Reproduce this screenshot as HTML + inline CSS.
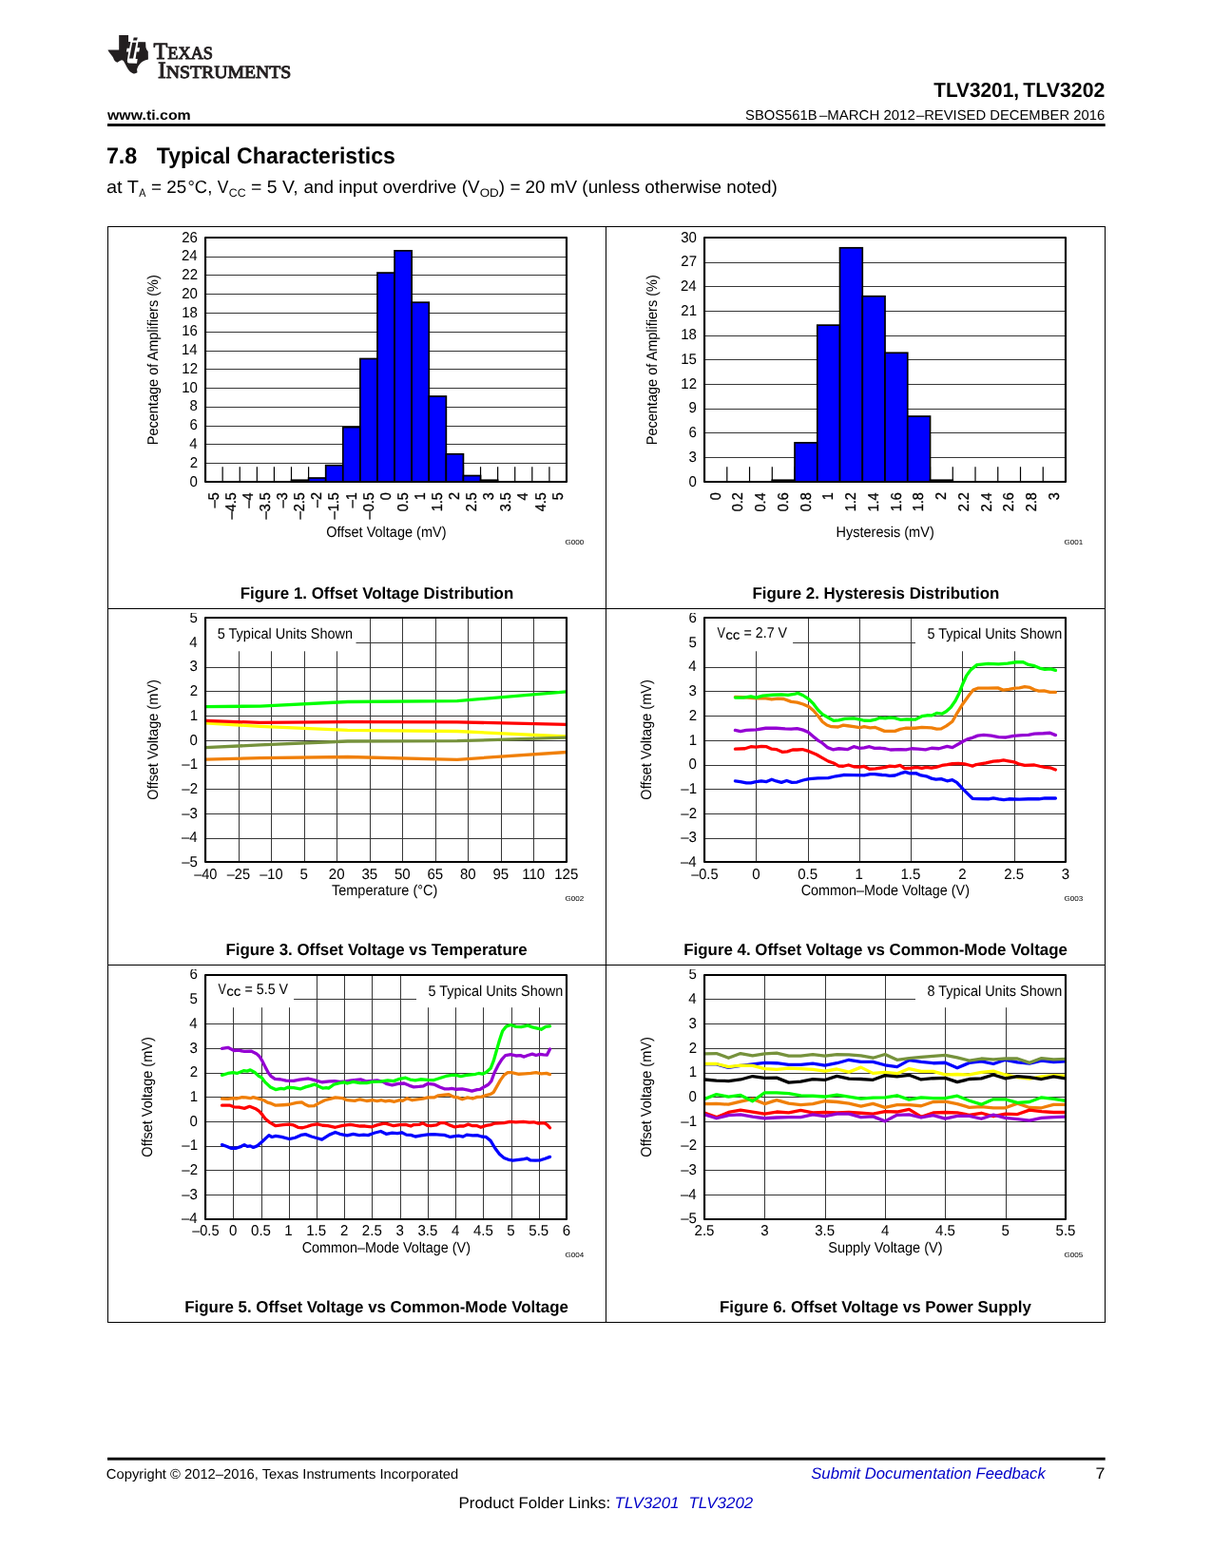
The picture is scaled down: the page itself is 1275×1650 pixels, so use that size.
<!DOCTYPE html>
<html lang="en"><head><meta charset="utf-8"><title>TLV3201, TLV3202 - Typical Characteristics</title>
<style>
html,body{margin:0;padding:0;background:#fff}
body{width:1275px;height:1650px;overflow:hidden}
svg{display:block}
text{font-family:"Liberation Sans",sans-serif;white-space:pre;text-rendering:geometricPrecision}
.b{font-weight:bold}
.i{font-style:italic}
.bi{font-weight:bold;font-style:italic}
.s{font-family:"Liberation Serif",serif}
.sb{font-family:"Liberation Serif",serif;font-weight:bold}
</style></head><body>
<svg width="1275" height="1650" viewBox="0 0 1275 1650">
<rect width="1275" height="1650" fill="#fff"/>
<g transform="translate(108,30) scale(0.047059)" fill="#231f20"><path d="M365,150 L575,150 L575,300 L960,302 L965,420 Q975,480 1015,515 L1018,690 Q860,720 790,850 Q750,910 775,985 Q740,1015 690,1008 Q600,980 545,870 Q500,780 465,720 Q430,690 385,720 L325,760 Q270,735 255,700 Q240,650 220,625 Q150,540 125,500 L118,480 L365,478 Z"/><path fill="#fff" d="M625,295 L795,295 L775,430 L832,430 L812,520 L758,520 L735,680 L780,680 L765,780 L590,778 Q548,770 548,715 L578,520 L528,520 L545,440 L598,440 Z"/><path d="M662,312 L752,312 L682,672 L595,672 Z"/><path d="M695,200 L782,200 L765,268 L680,268 Z"/></g>
<text class="s" transform="translate(161.48,61.6) scale(0.9678,1)" fill="#231f20" stroke="#231f20" stroke-width="1" stroke-linejoin="round"><tspan font-size="25">T</tspan><tspan font-size="18.9">EXAS</tspan></text>
<text class="s" transform="translate(165.99,81.7) scale(1.0451,1)" fill="#231f20" stroke="#231f20" stroke-width="1" stroke-linejoin="round"><tspan font-size="25">I</tspan><tspan font-size="18.9">NSTRUMENTS</tspan></text>
<text class="b" transform="translate(112.94,126) scale(1.0901,1)" font-size="14.6">www.ti.com</text>
<text class="b" transform="translate(982.19,102.4) scale(0.9675,1)" font-size="21.5">TLV3201,</text>
<text class="b" transform="translate(1076.29,102.4) scale(0.9920,1)" font-size="21.5">TLV3202</text>
<text class="r" transform="translate(784.04,125.5) scale(1.0127,1)" font-size="14.58">SBOS561B</text>
<text class="r" transform="translate(862,125.5) scale(1.0273,1)" font-size="14.58">–MARCH 2012</text>
<text class="r" transform="translate(963.9,125.5) scale(1.0155,1)" font-size="14.58">–REVISED DECEMBER 2016</text>
<rect x="113" y="130.1" width="1049.7" height="2.9" fill="#000"/>
<text class="b" transform="translate(111.91,172.1) scale(0.9709,1)" font-size="24">7.8</text>
<text class="b" transform="translate(164.87,172.1) scale(0.9619,1)" font-size="24">Typical Characteristics</text>
<text class="r" transform="translate(112.06,203) scale(1.0602,1)" font-size="18.75">at T</text>
<text class="r" transform="translate(146.17,207) scale(0.8784,1)" font-size="12.2">A</text>
<text class="r" transform="translate(159.11,203) scale(1.0016,1)" font-size="18.75">= 25</text>
<text class="r" transform="translate(197.5,203) scale(0.9813,1)" font-size="18.75">°C,</text>
<text class="r" transform="translate(228.81,203) scale(0.9328,1)" font-size="18.75">V</text>
<text class="r" transform="translate(240.78,207) scale(1.0084,1)" font-size="12.2">CC</text>
<text class="r" transform="translate(264.08,203) scale(1.0357,1)" font-size="18.75">= 5 V,</text>
<text class="r" transform="translate(319.5,203) scale(1.0089,1)" font-size="18.75">and input overdrive (V</text>
<text class="r" transform="translate(504.66,207) scale(1.1026,1)" font-size="12.2">OD</text>
<text class="r" transform="translate(524.86,203) scale(1.0055,1)" font-size="18.75">) = 20 mV (unless otherwise noted)</text>
<rect x="113" y="238" width="1050" height="1" fill="#000"/>
<rect x="113" y="640" width="1050" height="1" fill="#000"/>
<rect x="113" y="1015" width="1050" height="1" fill="#000"/>
<rect x="113" y="1391" width="1050" height="1" fill="#000"/>
<rect x="113" y="238" width="1" height="1154" fill="#000"/>
<rect x="637" y="238" width="1" height="1154" fill="#000"/>
<rect x="1162" y="238" width="1" height="1154" fill="#000"/>
<rect x="216.05" y="270" width="379.95" height="1" fill="#363636"/>
<rect x="216.05" y="289" width="379.95" height="1" fill="#363636"/>
<rect x="216.05" y="309" width="379.95" height="1" fill="#363636"/>
<rect x="216.05" y="329" width="379.95" height="1" fill="#363636"/>
<rect x="216.05" y="349" width="379.95" height="1" fill="#363636"/>
<rect x="216.05" y="369" width="379.95" height="1" fill="#363636"/>
<rect x="216.05" y="388" width="379.95" height="1" fill="#363636"/>
<rect x="216.05" y="408" width="379.95" height="1" fill="#363636"/>
<rect x="216.05" y="428" width="379.95" height="1" fill="#363636"/>
<rect x="216.05" y="448" width="379.95" height="1" fill="#363636"/>
<rect x="216.05" y="467" width="379.95" height="1" fill="#363636"/>
<rect x="216.05" y="487" width="379.95" height="1" fill="#363636"/>
<rect x="233.54" y="491.25" width="1.2" height="15.7" fill="#000"/>
<rect x="251.64" y="491.25" width="1.2" height="15.7" fill="#000"/>
<rect x="269.73" y="491.25" width="1.2" height="15.7" fill="#000"/>
<rect x="287.82" y="491.25" width="1.2" height="15.7" fill="#000"/>
<rect x="305.91" y="491.25" width="1.2" height="15.7" fill="#000"/>
<rect x="324.01" y="491.25" width="1.2" height="15.7" fill="#000"/>
<rect x="342.1" y="491.25" width="1.2" height="15.7" fill="#000"/>
<rect x="360.19" y="491.25" width="1.2" height="15.7" fill="#000"/>
<rect x="378.29" y="491.25" width="1.2" height="15.7" fill="#000"/>
<rect x="396.38" y="491.25" width="1.2" height="15.7" fill="#000"/>
<rect x="414.47" y="491.25" width="1.2" height="15.7" fill="#000"/>
<rect x="432.56" y="491.25" width="1.2" height="15.7" fill="#000"/>
<rect x="450.66" y="491.25" width="1.2" height="15.7" fill="#000"/>
<rect x="468.75" y="491.25" width="1.2" height="15.7" fill="#000"/>
<rect x="486.84" y="491.25" width="1.2" height="15.7" fill="#000"/>
<rect x="504.94" y="491.25" width="1.2" height="15.7" fill="#000"/>
<rect x="523.03" y="491.25" width="1.2" height="15.7" fill="#000"/>
<rect x="541.12" y="491.25" width="1.2" height="15.7" fill="#000"/>
<rect x="559.21" y="491.25" width="1.2" height="15.7" fill="#000"/>
<rect x="577.31" y="491.25" width="1.2" height="15.7" fill="#000"/>
<rect x="306.51" y="505.25" width="18.09" height="1.7" fill="#0000ff" stroke="#000" stroke-width="1.7"/>
<rect x="324.61" y="503" width="18.09" height="3.95" fill="#0000ff" stroke="#000" stroke-width="1.7"/>
<rect x="342.7" y="489.66" width="18.09" height="17.29" fill="#0000ff" stroke="#000" stroke-width="1.7"/>
<rect x="360.79" y="449.64" width="18.09" height="57.31" fill="#0000ff" stroke="#000" stroke-width="1.7"/>
<rect x="378.89" y="377.49" width="18.09" height="129.46" fill="#0000ff" stroke="#000" stroke-width="1.7"/>
<rect x="396.98" y="287.07" width="18.09" height="219.88" fill="#0000ff" stroke="#000" stroke-width="1.7"/>
<rect x="415.07" y="263.84" width="18.09" height="243.11" fill="#0000ff" stroke="#000" stroke-width="1.7"/>
<rect x="433.16" y="318.2" width="18.09" height="188.75" fill="#0000ff" stroke="#000" stroke-width="1.7"/>
<rect x="451.26" y="417.02" width="18.09" height="89.93" fill="#0000ff" stroke="#000" stroke-width="1.7"/>
<rect x="469.35" y="477.8" width="18.09" height="29.15" fill="#0000ff" stroke="#000" stroke-width="1.7"/>
<rect x="487.44" y="500.53" width="18.09" height="6.42" fill="#0000ff" stroke="#000" stroke-width="1.7"/>
<rect x="505.54" y="505.25" width="18.09" height="1.7" fill="#0000ff" stroke="#000" stroke-width="1.7"/>
<rect x="216.05" y="250" width="379.95" height="256.95" fill="none" stroke="#000" stroke-width="2.15" stroke-linejoin="round"/>
<text class="r" transform="translate(191.2,255) scale(0.9650,1)" font-size="15.62">26</text>
<text class="r" transform="translate(190.98,274) scale(0.9650,1)" font-size="15.62">24</text>
<text class="r" transform="translate(191.32,294) scale(0.9650,1)" font-size="15.62">22</text>
<text class="r" transform="translate(191.13,314) scale(0.9650,1)" font-size="15.62">20</text>
<text class="r" transform="translate(191.2,334) scale(0.9650,1)" font-size="15.62">18</text>
<text class="r" transform="translate(191.2,353) scale(0.9650,1)" font-size="15.62">16</text>
<text class="r" transform="translate(190.98,373) scale(0.9650,1)" font-size="15.62">14</text>
<text class="r" transform="translate(191.32,393) scale(0.9650,1)" font-size="15.62">12</text>
<text class="r" transform="translate(191.13,413) scale(0.9650,1)" font-size="15.62">10</text>
<text class="r" transform="translate(199.57,432) scale(0.9650,1)" font-size="15.62">8</text>
<text class="r" transform="translate(199.57,452) scale(0.9650,1)" font-size="15.62">6</text>
<text class="r" transform="translate(199.35,472) scale(0.9650,1)" font-size="15.62">4</text>
<text class="r" transform="translate(199.69,492) scale(0.9650,1)" font-size="15.62">2</text>
<text class="r" transform="translate(199.5,512) scale(0.9650,1)" font-size="15.62">0</text>
<text class="r" transform="translate(229.8,534.26) rotate(-90) scale(0.9250,1)" font-size="15.62" stroke="#000" stroke-width="0.3">–5</text>
<text class="r" transform="translate(247.89,546.33) rotate(-90) scale(0.9250,1)" font-size="15.62" stroke="#000" stroke-width="0.3">–4.5</text>
<text class="r" transform="translate(265.98,534.45) rotate(-90) scale(0.9250,1)" font-size="15.62" stroke="#000" stroke-width="0.3">–4</text>
<text class="r" transform="translate(284.07,546.33) rotate(-90) scale(0.9250,1)" font-size="15.62" stroke="#000" stroke-width="0.3">–3.5</text>
<text class="r" transform="translate(302.17,534.23) rotate(-90) scale(0.9250,1)" font-size="15.62" stroke="#000" stroke-width="0.3">–3</text>
<text class="r" transform="translate(320.26,546.33) rotate(-90) scale(0.9250,1)" font-size="15.62" stroke="#000" stroke-width="0.3">–2.5</text>
<text class="r" transform="translate(338.35,534.12) rotate(-90) scale(0.9250,1)" font-size="15.62" stroke="#000" stroke-width="0.3">–2</text>
<text class="r" transform="translate(356.45,546.33) rotate(-90) scale(0.9250,1)" font-size="15.62" stroke="#000" stroke-width="0.3">–1.5</text>
<text class="r" transform="translate(374.54,534.16) rotate(-90) scale(0.9250,1)" font-size="15.62" stroke="#000" stroke-width="0.3">–1</text>
<text class="r" transform="translate(392.63,546.33) rotate(-90) scale(0.9250,1)" font-size="15.62" stroke="#000" stroke-width="0.3">–0.5</text>
<text class="r" transform="translate(410.72,526.28) rotate(-90) scale(0.9250,1)" font-size="15.62" stroke="#000" stroke-width="0.3">0</text>
<text class="r" transform="translate(428.82,538.31) rotate(-90) scale(0.9250,1)" font-size="15.62" stroke="#000" stroke-width="0.3">0.5</text>
<text class="r" transform="translate(446.91,526.13) rotate(-90) scale(0.9250,1)" font-size="15.62" stroke="#000" stroke-width="0.3">1</text>
<text class="r" transform="translate(465,538.31) rotate(-90) scale(0.9250,1)" font-size="15.62" stroke="#000" stroke-width="0.3">1.5</text>
<text class="r" transform="translate(483.1,526.1) rotate(-90) scale(0.9250,1)" font-size="15.62" stroke="#000" stroke-width="0.3">2</text>
<text class="r" transform="translate(501.19,538.31) rotate(-90) scale(0.9250,1)" font-size="15.62" stroke="#000" stroke-width="0.3">2.5</text>
<text class="r" transform="translate(519.28,526.21) rotate(-90) scale(0.9250,1)" font-size="15.62" stroke="#000" stroke-width="0.3">3</text>
<text class="r" transform="translate(537.38,538.31) rotate(-90) scale(0.9250,1)" font-size="15.62" stroke="#000" stroke-width="0.3">3.5</text>
<text class="r" transform="translate(555.47,526.42) rotate(-90) scale(0.9250,1)" font-size="15.62" stroke="#000" stroke-width="0.3">4</text>
<text class="r" transform="translate(573.56,538.31) rotate(-90) scale(0.9250,1)" font-size="15.62" stroke="#000" stroke-width="0.3">4.5</text>
<text class="r" transform="translate(591.65,526.24) rotate(-90) scale(0.9250,1)" font-size="15.62" stroke="#000" stroke-width="0.3">5</text>
<text class="r" transform="translate(166.35,468.3) rotate(-90) scale(0.9300,1)" font-size="15.62">Pecentage of Amplifiers (%)</text>
<text class="r" transform="translate(343.15,565) scale(0.9300,1)" font-size="15.62">Offset Voltage (mV)</text>
<text class="r" transform="translate(594.4,573) scale(1.1070,1)" font-size="7.3">G000</text>
<text class="b" transform="translate(252.65,630) scale(0.9820,1)" font-size="17.2">Figure 1. Offset Voltage Distribution</text>
<rect x="741.05" y="276" width="379.95" height="1" fill="#363636"/>
<rect x="741.05" y="301" width="379.95" height="1" fill="#363636"/>
<rect x="741.05" y="327" width="379.95" height="1" fill="#363636"/>
<rect x="741.05" y="353" width="379.95" height="1" fill="#363636"/>
<rect x="741.05" y="378" width="379.95" height="1" fill="#363636"/>
<rect x="741.05" y="404" width="379.95" height="1" fill="#363636"/>
<rect x="741.05" y="430" width="379.95" height="1" fill="#363636"/>
<rect x="741.05" y="455" width="379.95" height="1" fill="#363636"/>
<rect x="741.05" y="481" width="379.95" height="1" fill="#363636"/>
<rect x="764.2" y="491.25" width="1.2" height="15.7" fill="#000"/>
<rect x="787.94" y="491.25" width="1.2" height="15.7" fill="#000"/>
<rect x="811.69" y="491.25" width="1.2" height="15.7" fill="#000"/>
<rect x="835.44" y="491.25" width="1.2" height="15.7" fill="#000"/>
<rect x="859.18" y="491.25" width="1.2" height="15.7" fill="#000"/>
<rect x="882.93" y="491.25" width="1.2" height="15.7" fill="#000"/>
<rect x="906.68" y="491.25" width="1.2" height="15.7" fill="#000"/>
<rect x="930.42" y="491.25" width="1.2" height="15.7" fill="#000"/>
<rect x="954.17" y="491.25" width="1.2" height="15.7" fill="#000"/>
<rect x="977.92" y="491.25" width="1.2" height="15.7" fill="#000"/>
<rect x="1001.67" y="491.25" width="1.2" height="15.7" fill="#000"/>
<rect x="1025.41" y="491.25" width="1.2" height="15.7" fill="#000"/>
<rect x="1049.16" y="491.25" width="1.2" height="15.7" fill="#000"/>
<rect x="1072.91" y="491.25" width="1.2" height="15.7" fill="#000"/>
<rect x="1096.65" y="491.25" width="1.2" height="15.7" fill="#000"/>
<rect x="812.29" y="505.25" width="23.75" height="1.7" fill="#0000ff" stroke="#000" stroke-width="1.7"/>
<rect x="836.04" y="465.91" width="23.75" height="41.04" fill="#0000ff" stroke="#000" stroke-width="1.7"/>
<rect x="859.78" y="342.15" width="23.75" height="164.8" fill="#0000ff" stroke="#000" stroke-width="1.7"/>
<rect x="883.53" y="260.78" width="23.75" height="246.17" fill="#0000ff" stroke="#000" stroke-width="1.7"/>
<rect x="907.28" y="311.74" width="23.75" height="195.21" fill="#0000ff" stroke="#000" stroke-width="1.7"/>
<rect x="931.02" y="371.27" width="23.75" height="135.68" fill="#0000ff" stroke="#000" stroke-width="1.7"/>
<rect x="954.77" y="438.07" width="23.75" height="68.88" fill="#0000ff" stroke="#000" stroke-width="1.7"/>
<rect x="978.52" y="505.25" width="23.75" height="1.7" fill="#0000ff" stroke="#000" stroke-width="1.7"/>
<rect x="741.05" y="250" width="379.95" height="256.95" fill="none" stroke="#000" stroke-width="2.15" stroke-linejoin="round"/>
<text class="r" transform="translate(716.13,255) scale(0.9650,1)" font-size="15.62">30</text>
<text class="r" transform="translate(716.32,280) scale(0.9650,1)" font-size="15.62">27</text>
<text class="r" transform="translate(715.98,306) scale(0.9650,1)" font-size="15.62">24</text>
<text class="r" transform="translate(716.28,332) scale(0.9650,1)" font-size="15.62">21</text>
<text class="r" transform="translate(716.2,357) scale(0.9650,1)" font-size="15.62">18</text>
<text class="r" transform="translate(716.17,383) scale(0.9650,1)" font-size="15.62">15</text>
<text class="r" transform="translate(716.32,409) scale(0.9650,1)" font-size="15.62">12</text>
<text class="r" transform="translate(724.61,434) scale(0.9650,1)" font-size="15.62">9</text>
<text class="r" transform="translate(724.57,460) scale(0.9650,1)" font-size="15.62">6</text>
<text class="r" transform="translate(724.57,486) scale(0.9650,1)" font-size="15.62">3</text>
<text class="r" transform="translate(724.5,512) scale(0.9650,1)" font-size="15.62">0</text>
<text class="r" transform="translate(757.62,526.28) rotate(-90) scale(0.9250,1)" font-size="15.62" stroke="#000" stroke-width="0.3">0</text>
<text class="r" transform="translate(781.37,538.17) rotate(-90) scale(0.9250,1)" font-size="15.62" stroke="#000" stroke-width="0.3">0.2</text>
<text class="r" transform="translate(805.12,538.49) rotate(-90) scale(0.9250,1)" font-size="15.62" stroke="#000" stroke-width="0.3">0.4</text>
<text class="r" transform="translate(828.86,538.28) rotate(-90) scale(0.9250,1)" font-size="15.62" stroke="#000" stroke-width="0.3">0.6</text>
<text class="r" transform="translate(852.61,538.28) rotate(-90) scale(0.9250,1)" font-size="15.62" stroke="#000" stroke-width="0.3">0.8</text>
<text class="r" transform="translate(876.36,526.13) rotate(-90) scale(0.9250,1)" font-size="15.62" stroke="#000" stroke-width="0.3">1</text>
<text class="r" transform="translate(900.1,538.17) rotate(-90) scale(0.9250,1)" font-size="15.62" stroke="#000" stroke-width="0.3">1.2</text>
<text class="r" transform="translate(923.85,538.49) rotate(-90) scale(0.9250,1)" font-size="15.62" stroke="#000" stroke-width="0.3">1.4</text>
<text class="r" transform="translate(947.6,538.28) rotate(-90) scale(0.9250,1)" font-size="15.62" stroke="#000" stroke-width="0.3">1.6</text>
<text class="r" transform="translate(971.35,538.28) rotate(-90) scale(0.9250,1)" font-size="15.62" stroke="#000" stroke-width="0.3">1.8</text>
<text class="r" transform="translate(995.09,526.1) rotate(-90) scale(0.9250,1)" font-size="15.62" stroke="#000" stroke-width="0.3">2</text>
<text class="r" transform="translate(1018.84,538.17) rotate(-90) scale(0.9250,1)" font-size="15.62" stroke="#000" stroke-width="0.3">2.2</text>
<text class="r" transform="translate(1042.59,538.49) rotate(-90) scale(0.9250,1)" font-size="15.62" stroke="#000" stroke-width="0.3">2.4</text>
<text class="r" transform="translate(1066.33,538.28) rotate(-90) scale(0.9250,1)" font-size="15.62" stroke="#000" stroke-width="0.3">2.6</text>
<text class="r" transform="translate(1090.08,538.28) rotate(-90) scale(0.9250,1)" font-size="15.62" stroke="#000" stroke-width="0.3">2.8</text>
<text class="r" transform="translate(1113.83,526.21) rotate(-90) scale(0.9250,1)" font-size="15.62" stroke="#000" stroke-width="0.3">3</text>
<text class="r" transform="translate(691.35,468.3) rotate(-90) scale(0.9300,1)" font-size="15.62">Pecentage of Amplifiers (%)</text>
<text class="r" transform="translate(879.5,565) scale(0.9300,1)" font-size="15.62">Hysteresis (mV)</text>
<text class="r" transform="translate(1119.4,573) scale(1.1070,1)" font-size="7.3">G001</text>
<text class="b" transform="translate(791.54,630) scale(0.9820,1)" font-size="17.2">Figure 2. Hysteresis Distribution</text>
<clipPath id="clipA"><rect x="100" y="644.9" width="1100" height="300"/></clipPath><clipPath id="clipB"><rect x="100" y="1019.9" width="1100" height="300"/></clipPath>
<rect x="216.05" y="676" width="379.95" height="1" fill="#363636"/>
<rect x="216.05" y="702" width="379.95" height="1" fill="#363636"/>
<rect x="216.05" y="727" width="379.95" height="1" fill="#363636"/>
<rect x="216.05" y="753" width="379.95" height="1" fill="#363636"/>
<rect x="216.05" y="779" width="379.95" height="1" fill="#363636"/>
<rect x="216.05" y="805" width="379.95" height="1" fill="#363636"/>
<rect x="216.05" y="830" width="379.95" height="1" fill="#363636"/>
<rect x="216.05" y="856" width="379.95" height="1" fill="#363636"/>
<rect x="216.05" y="882" width="379.95" height="1" fill="#363636"/>
<rect x="251" y="650" width="1" height="256.95" fill="#363636"/>
<rect x="285" y="650" width="1" height="256.95" fill="#363636"/>
<rect x="320" y="650" width="1" height="256.95" fill="#363636"/>
<rect x="354" y="650" width="1" height="256.95" fill="#363636"/>
<rect x="389" y="650" width="1" height="256.95" fill="#363636"/>
<rect x="423" y="650" width="1" height="256.95" fill="#363636"/>
<rect x="458" y="650" width="1" height="256.95" fill="#363636"/>
<rect x="492" y="650" width="1" height="256.95" fill="#363636"/>
<rect x="527" y="650" width="1" height="256.95" fill="#363636"/>
<rect x="561" y="650" width="1" height="256.95" fill="#363636"/>
<rect x="217" y="651" width="157.5" height="34.3" fill="#fff"/>
<clipPath id="cp216_650"><rect x="216.05" y="650" width="379.95" height="256.95"/></clipPath><g clip-path="url(#cp216_650)">
<path d="M216.05,799.1 L273.6,797.6 L365.7,796.5 L480.9,799.3 L596,791.5" fill="none" stroke="#f07f09" stroke-width="3.3" stroke-linejoin="round" stroke-linecap="round"/>
<path d="M216.05,760.9 L273.6,764.3 L365.7,768.4 L480.9,769.5 L596,775" fill="none" stroke="#ffff00" stroke-width="3.3" stroke-linejoin="round" stroke-linecap="round"/>
<path d="M216.05,786.6 L273.6,783.9 L365.7,780 L480.9,779.7 L596,776.1" fill="none" stroke="#76923c" stroke-width="3.3" stroke-linejoin="round" stroke-linecap="round"/>
<path d="M216.05,758.4 L273.6,760.4 L365.7,759.6 L480.9,759.9 L596,762.3" fill="none" stroke="#ff0000" stroke-width="3.3" stroke-linejoin="round" stroke-linecap="round"/>
<path d="M216.05,743.6 L273.6,743.1 L365.7,738.5 L480.9,737.6 L596,727.9" fill="none" stroke="#00ff00" stroke-width="3.3" stroke-linejoin="round" stroke-linecap="round"/>
</g>
<rect x="216.05" y="650" width="379.95" height="256.95" fill="none" stroke="#000" stroke-width="2.15" stroke-linejoin="round"/>
<g clip-path="url(#clipA)">
<text class="r" transform="translate(199.53,655) scale(0.9650,1)" font-size="15.62">5</text>
<text class="r" transform="translate(199.35,681) scale(0.9650,1)" font-size="15.62">4</text>
<text class="r" transform="translate(199.57,706) scale(0.9650,1)" font-size="15.62">3</text>
<text class="r" transform="translate(199.69,732) scale(0.9650,1)" font-size="15.62">2</text>
<text class="r" transform="translate(199.65,758) scale(0.9650,1)" font-size="15.62">1</text>
<text class="r" transform="translate(199.5,784) scale(0.9650,1)" font-size="15.62">0</text>
<text class="r" transform="translate(191.28,809) scale(0.9650,1)" font-size="15.62">–1</text>
<text class="r" transform="translate(191.32,835) scale(0.9650,1)" font-size="15.62">–2</text>
<text class="r" transform="translate(191.2,861) scale(0.9650,1)" font-size="15.62">–3</text>
<text class="r" transform="translate(190.98,886) scale(0.9650,1)" font-size="15.62">–4</text>
<text class="r" transform="translate(191.17,912) scale(0.9650,1)" font-size="15.62">–5</text>
</g>
<text class="r" transform="translate(204.14,924.5) scale(0.9350,1)" font-size="15.62">–40</text>
<text class="r" transform="translate(238.7,924.5) scale(0.9350,1)" font-size="15.62">–25</text>
<text class="r" transform="translate(273.23,924.5) scale(0.9350,1)" font-size="15.62">–10</text>
<text class="r" transform="translate(315.49,924.5) scale(0.9650,1)" font-size="15.62">5</text>
<text class="r" transform="translate(345.75,924.5) scale(0.9650,1)" font-size="15.62">20</text>
<text class="r" transform="translate(380.41,924.5) scale(0.9650,1)" font-size="15.62">35</text>
<text class="r" transform="translate(414.91,924.5) scale(0.9650,1)" font-size="15.62">50</text>
<text class="r" transform="translate(449.39,924.5) scale(0.9650,1)" font-size="15.62">65</text>
<text class="r" transform="translate(483.97,924.5) scale(0.9650,1)" font-size="15.62">80</text>
<text class="r" transform="translate(518.49,924.5) scale(0.9650,1)" font-size="15.62">95</text>
<text class="r" transform="translate(549.17,924.5) scale(0.9650,1)" font-size="15.62">110</text>
<text class="r" transform="translate(583.16,924.5) scale(0.9650,1)" font-size="15.62">125</text>
<text class="r" transform="translate(166.35,841.65) rotate(-90) scale(0.9300,1)" font-size="15.62">Offset Voltage (mV)</text>
<text class="r" transform="translate(348.9,941.5) scale(0.9300,1)" font-size="15.62">Temperature (°C)</text>
<text class="r" transform="translate(594.4,948) scale(1.1070,1)" font-size="7.3">G002</text>
<text class="b" transform="translate(237.43,1005) scale(0.9820,1)" font-size="17.2">Figure 3. Offset Voltage vs Temperature</text>
<text class="r" transform="translate(228.72,672) scale(0.9286,1)" font-size="15.62">5 Typical Units Shown</text>
<rect x="741.05" y="676" width="379.95" height="1" fill="#363636"/>
<rect x="741.05" y="702" width="379.95" height="1" fill="#363636"/>
<rect x="741.05" y="727" width="379.95" height="1" fill="#363636"/>
<rect x="741.05" y="753" width="379.95" height="1" fill="#363636"/>
<rect x="741.05" y="779" width="379.95" height="1" fill="#363636"/>
<rect x="741.05" y="805" width="379.95" height="1" fill="#363636"/>
<rect x="741.05" y="830" width="379.95" height="1" fill="#363636"/>
<rect x="741.05" y="856" width="379.95" height="1" fill="#363636"/>
<rect x="741.05" y="882" width="379.95" height="1" fill="#363636"/>
<rect x="795" y="650" width="1" height="256.95" fill="#363636"/>
<rect x="850" y="650" width="1" height="256.95" fill="#363636"/>
<rect x="904" y="650" width="1" height="256.95" fill="#363636"/>
<rect x="958" y="650" width="1" height="256.95" fill="#363636"/>
<rect x="1012" y="650" width="1" height="256.95" fill="#363636"/>
<rect x="1067" y="650" width="1" height="256.95" fill="#363636"/>
<rect x="742" y="651" width="92.1" height="34.3" fill="#fff"/>
<rect x="963" y="651" width="157" height="34.3" fill="#fff"/>
<clipPath id="cp741_650"><rect x="741.05" y="650" width="379.95" height="256.95"/></clipPath><g clip-path="url(#cp741_650)">
<path d="M773.43,821.94 L778.92,822.57 L785.2,823.82 L789.9,823.82 L795.39,822.73 L800.88,821.94 L806.37,822.57 L811.86,820.22 L816.57,821.94 L822.06,823.35 L827.55,821.47 L833.04,823.35 L838.53,823.04 L844.8,821 L851.08,819.59 L860.49,818.8 L871.47,818.65 L879.31,816.76 L887.16,815.51 L898.14,815.67 L909.12,815.82 L915.39,814.57 L920.1,814.57 L927.94,815.51 L931.27,815.67 L935.98,816.29 L941.47,815.98 L946.96,813.94 L952.45,812.37 L957.16,813.94 L963.43,813.63 L968.92,815.98 L974.41,816.76 L979.9,819.12 L984.61,820.22 L990.1,819.59 L996.37,821.78 L1001.86,820.69 L1006.57,823.35 L1012.84,830.1 L1018.33,835.59 L1023.04,840.29 L1028.53,840.61 L1039.51,840.76 L1045,839.82 L1050.49,840.76 L1055.98,841.55 L1061.47,840.76 L1072.45,841.08 L1081.86,840.76 L1092.84,840.76 L1099.12,839.82 L1104.61,839.98 L1110.41,839.98" fill="none" stroke="#0000ff" stroke-width="3.3" stroke-linejoin="round" stroke-linecap="round"/>
<path d="M773.43,788.22 L783.63,787.75 L789.9,785.71 L795.39,786.18 L800.88,785.39 L806.37,785.71 L811.86,788.22 L816.57,788.53 L822.84,791.35 L828.33,790.88 L833.82,789 L838.53,789 L844.02,788.53 L849.51,790.1 L858.92,794.02 L865.2,797.63 L871.47,801.08 L876.96,802.96 L882.45,806.1 L887.16,806.25 L892.65,805 L898.14,806.73 L904.41,807.04 L909.12,806.41 L914.61,809.24 L920.88,808.92 L927.94,807.82 L931.27,807.35 L935.98,806.1 L941.47,806.57 L946.96,805.47 L951.67,808.61 L958.73,808.14 L964.22,807.35 L969.71,808.29 L974.41,807.35 L979.9,808.14 L985.39,807.04 L990.88,805.47 L996.37,804.69 L1001.86,803.75 L1008.14,803.43 L1014.41,803.9 L1019.12,805 L1023.04,806.1 L1026.96,804.53 L1037.16,802.96 L1045,801.08 L1050.49,800.76 L1055.67,799.98 L1060.69,800.76 L1066.96,801.86 L1072.45,804.22 L1077.94,805.47 L1088.14,805 L1093.63,806.25 L1099.12,807.35 L1104.61,807.82 L1110.41,810.02" fill="none" stroke="#ff0000" stroke-width="3.3" stroke-linejoin="round" stroke-linecap="round"/>
<path d="M773.43,768.45 L778.92,769.71 L785.2,768.45 L795.39,767.82 L805.59,766.25 L816.57,766.25 L825.98,766.88 L832.25,767.04 L838.53,766.57 L844.8,768.14 L850.29,770.49 L855.78,775.2 L860.49,779.12 L865.2,781.94 L870.69,786.65 L876.18,788.84 L882.45,787.75 L891.86,788.53 L898.14,785.71 L904.41,787.43 L909.12,786.96 L914.61,785.71 L920.1,787.43 L926.37,787.27 L931.27,787.75 L936.76,789 L946.96,788.53 L953.24,788.84 L958.73,787.75 L965.78,788.06 L973.63,788.84 L979.9,787.27 L987.75,787.75 L996.37,785.39 L1001.86,786.65 L1008.14,783.04 L1012.84,780.22 L1017.55,777.86 L1023.04,776.29 L1028.53,774.1 L1034.8,773.31 L1042.65,774.1 L1050.49,775.67 L1058.33,775.98 L1066.18,774.41 L1075.59,773.63 L1081.86,773.31 L1088.14,772.06 L1097.55,771.75 L1104.61,771.27 L1110.41,773.63" fill="none" stroke="#9400d3" stroke-width="3.3" stroke-linejoin="round" stroke-linecap="round"/>
<path d="M773.43,733.31 L782.06,733.63 L795.39,734.88 L805.59,734.88 L811.86,735.98 L818.14,735.2 L824.41,735.51 L832.25,738.33 L838.53,739.12 L844.8,741 L851.08,743.82 L855.78,747.75 L860.49,753.24 L865.2,759.51 L869.9,762.96 L874.61,764.69 L881.67,765 L887.16,763.12 L891.86,763.75 L898.14,764.53 L904.41,765.63 L909.12,764.69 L915.39,765.78 L920.88,765.47 L925.59,767.35 L930.49,769.39 L941.47,769.39 L946.96,767.35 L952.45,766.25 L962.65,766.25 L969.71,765.47 L979.9,765.94 L985.39,767.04 L990.1,766.88 L995.59,763.9 L1001.86,759.2 L1006.57,750.88 L1012.84,740.69 L1019.12,732.06 L1023.82,726.1 L1028.53,724.22 L1039.51,724.22 L1049.71,723.9 L1055.2,726.1 L1061.47,725.47 L1067.75,724.22 L1072.45,723.9 L1077.94,722.65 L1083.43,723.43 L1088.14,725.78 L1092.84,727.04 L1098.33,726.88 L1104.61,728.45 L1110.41,728.45" fill="none" stroke="#f07f09" stroke-width="3.3" stroke-linejoin="round" stroke-linecap="round"/>
<path d="M773.43,734.1 L782.06,734.1 L789.9,732.84 L795.39,734.1 L802.45,732.06 L813.43,731.27 L822.06,730.8 L829.12,731.43 L835.39,730.49 L839.31,729.39 L844.8,731.75 L851.08,735.98 L855.78,740.69 L860.49,746.96 L865.2,751.67 L871.47,755.27 L876.96,758.41 L882.45,757.94 L888.73,756.37 L898.14,755.9 L904.41,757.16 L909.12,758.25 L915.39,758.41 L920.88,757.16 L925.59,755.27 L931.27,755.9 L935.98,755.12 L941.47,755.59 L947.75,757.47 L954.02,756.84 L962.65,757.16 L969.71,753.71 L975.2,752.76 L979.9,752.92 L985.39,750.41 L990.88,751.2 L995.59,748.53 L1000.29,744.29 L1005,737.55 L1008.92,729.71 L1012.84,719.51 L1016.76,710.88 L1021.47,704.61 L1027.75,699.59 L1039.51,698.33 L1050.49,698.8 L1059.9,698.02 L1069.31,696.76 L1076.37,696.76 L1081.86,699.43 L1088.14,700.69 L1093.63,703.04 L1099.12,704.29 L1105.39,703.82 L1110.41,705.39" fill="none" stroke="#00ff00" stroke-width="3.3" stroke-linejoin="round" stroke-linecap="round"/>
</g>
<rect x="741.05" y="650" width="379.95" height="256.95" fill="none" stroke="#000" stroke-width="2.15" stroke-linejoin="round"/>
<g clip-path="url(#clipA)">
<text class="r" transform="translate(724.57,655) scale(0.9650,1)" font-size="15.62">6</text>
<text class="r" transform="translate(724.53,681) scale(0.9650,1)" font-size="15.62">5</text>
<text class="r" transform="translate(724.35,706) scale(0.9650,1)" font-size="15.62">4</text>
<text class="r" transform="translate(724.57,732) scale(0.9650,1)" font-size="15.62">3</text>
<text class="r" transform="translate(724.69,758) scale(0.9650,1)" font-size="15.62">2</text>
<text class="r" transform="translate(724.65,784) scale(0.9650,1)" font-size="15.62">1</text>
<text class="r" transform="translate(724.5,809) scale(0.9650,1)" font-size="15.62">0</text>
<text class="r" transform="translate(716.28,835) scale(0.9650,1)" font-size="15.62">–1</text>
<text class="r" transform="translate(716.32,861) scale(0.9650,1)" font-size="15.62">–2</text>
<text class="r" transform="translate(716.2,886) scale(0.9650,1)" font-size="15.62">–3</text>
<text class="r" transform="translate(715.98,912) scale(0.9650,1)" font-size="15.62">–4</text>
</g>
<text class="r" transform="translate(727.13,924.5) scale(0.9350,1)" font-size="15.62">–0.5</text>
<text class="r" transform="translate(791.13,924.5) scale(0.9650,1)" font-size="15.62">0</text>
<text class="r" transform="translate(839.13,924.5) scale(0.9650,1)" font-size="15.62">0.5</text>
<text class="r" transform="translate(899.49,924.5) scale(0.9650,1)" font-size="15.62">1</text>
<text class="r" transform="translate(947.42,924.5) scale(0.9650,1)" font-size="15.62">1.5</text>
<text class="r" transform="translate(1008.26,924.5) scale(0.9650,1)" font-size="15.62">2</text>
<text class="r" transform="translate(1056.17,924.5) scale(0.9650,1)" font-size="15.62">2.5</text>
<text class="r" transform="translate(1116.85,924.5) scale(0.9650,1)" font-size="15.62">3</text>
<text class="r" transform="translate(685.35,841.65) rotate(-90) scale(0.9300,1)" font-size="15.62">Offset Voltage (mV)</text>
<text class="r" transform="translate(842.64,941.5) scale(0.9207,1)" font-size="15.62">Common–Mode Voltage (V)</text>
<text class="r" transform="translate(1119.4,948) scale(1.1070,1)" font-size="7.3">G003</text>
<text class="b" transform="translate(719.28,1005) scale(0.9820,1)" font-size="17.2">Figure 4. Offset Voltage vs Common-Mode Voltage</text>
<text class="r" transform="translate(754.54,671) scale(0.8079,1)" font-size="15.62">V</text>
<text class="b" transform="translate(763.59,673) scale(0.9139,1)" font-size="11.2">CC</text>
<text class="r" transform="translate(782.52,671) scale(0.9117,1)" font-size="15.62">= 2.7 V</text>
<text class="r" transform="translate(975.42,672) scale(0.9253,1)" font-size="15.62">5 Typical Units Shown</text>
<rect x="216.05" y="1051" width="379.95" height="1" fill="#363636"/>
<rect x="216.05" y="1077" width="379.95" height="1" fill="#363636"/>
<rect x="216.05" y="1103" width="379.95" height="1" fill="#363636"/>
<rect x="216.05" y="1129" width="379.95" height="1" fill="#363636"/>
<rect x="216.05" y="1154" width="379.95" height="1" fill="#363636"/>
<rect x="216.05" y="1180" width="379.95" height="1" fill="#363636"/>
<rect x="216.05" y="1206" width="379.95" height="1" fill="#363636"/>
<rect x="216.05" y="1231" width="379.95" height="1" fill="#363636"/>
<rect x="216.05" y="1257" width="379.95" height="1" fill="#363636"/>
<rect x="245" y="1026" width="1" height="256.95" fill="#363636"/>
<rect x="275" y="1026" width="1" height="256.95" fill="#363636"/>
<rect x="304" y="1026" width="1" height="256.95" fill="#363636"/>
<rect x="333" y="1026" width="1" height="256.95" fill="#363636"/>
<rect x="362" y="1026" width="1" height="256.95" fill="#363636"/>
<rect x="391" y="1026" width="1" height="256.95" fill="#363636"/>
<rect x="421" y="1026" width="1" height="256.95" fill="#363636"/>
<rect x="450" y="1026" width="1" height="256.95" fill="#363636"/>
<rect x="479" y="1026" width="1" height="256.95" fill="#363636"/>
<rect x="508" y="1026" width="1" height="256.95" fill="#363636"/>
<rect x="538" y="1026" width="1" height="256.95" fill="#363636"/>
<rect x="567" y="1026" width="1" height="256.95" fill="#363636"/>
<rect x="217" y="1027" width="92.1" height="33.2" fill="#fff"/>
<rect x="438" y="1027" width="157" height="33.2" fill="#fff"/>
<clipPath id="cp216_1026"><rect x="216.05" y="1026" width="379.95" height="256.95"/></clipPath><g clip-path="url(#cp216_1026)">
<path d="M233.53,1204.63 L238.24,1206.2 L242.94,1208.24 L248.43,1208.24 L253.14,1206.67 L257.06,1204.63 L260.2,1206.35 L263.33,1205.88 L266.47,1207.45 L270.39,1205.88 L275.88,1201.18 L282.94,1194.59 L286.08,1196.47 L290,1195.37 L296.27,1196.47 L304.12,1198.51 L310.39,1197.25 L316.67,1194.43 L321.37,1193.65 L327.65,1196 L333.92,1197.73 L338.63,1199.14 L346.47,1194.12 L352.75,1191.45 L357.45,1193.33 L365.29,1194.9 L371.57,1193.33 L377.84,1194.59 L382.55,1194.12 L387.25,1194.59 L393.53,1192.24 L400.59,1190.51 L406.27,1193.33 L412.55,1192.08 L418.04,1192.55 L422.75,1191.76 L427.45,1194.12 L432.16,1194.43 L436.86,1196 L443.14,1194.9 L450.2,1193.8 L456.47,1193.65 L462.75,1194.12 L467.45,1194.43 L473.73,1196.47 L478.43,1195.69 L482.35,1195.22 L487.06,1196.16 L490.98,1194.12 L497.25,1194.9 L501.96,1194.59 L506.67,1196 L511.37,1196.47 L516.08,1200.39 L520.78,1208.24 L525.49,1214.51 L530.2,1218.43 L534.9,1220.31 L539.61,1221.1 L545.88,1220.31 L551.37,1219.69 L554.51,1218.9 L557.65,1220.78 L563.14,1221.1 L568.63,1220.78 L573.33,1219.22 L578.51,1217.33" fill="none" stroke="#0000ff" stroke-width="3.3" stroke-linejoin="round" stroke-linecap="round"/>
<path d="M233.53,1163.22 L241.37,1163.06 L246.08,1164.78 L251.57,1165.1 L257.06,1166.35 L262.55,1164.31 L268.82,1166.67 L272.75,1169.33 L275.88,1172.94 L279.02,1177.33 L283.73,1181.1 L290,1184.71 L297.84,1183.61 L304.12,1183.14 L308.82,1183.92 L313.53,1186.27 L318.24,1186.75 L322.94,1185.49 L327.65,1183.92 L333.92,1182.82 L339.41,1184.24 L344.9,1184.71 L352.75,1186.27 L360.59,1184.39 L368.43,1183.45 L373.14,1184.24 L378.63,1185.02 L384.12,1185.02 L391.18,1185.8 L396.67,1183.92 L402.94,1182.35 L406.27,1182.35 L414.12,1184.71 L420.39,1183.61 L426.67,1183.45 L432.16,1185.02 L435.29,1183.61 L440.78,1183.45 L444.71,1181.88 L449.41,1184.39 L453.33,1184.71 L458.82,1183.92 L463.53,1181.57 L467.45,1181.57 L472.16,1183.61 L478.43,1185.96 L483.14,1185.02 L487.84,1185.02 L492.55,1183.14 L497.25,1184.71 L501.96,1184.71 L505.88,1186.27 L511.37,1184.39 L516.08,1183.61 L520.78,1182.04 L530.2,1181.57 L536.47,1180.47 L542.75,1180.78 L550.59,1180.47 L556.86,1181.1 L561.57,1180.78 L566.27,1182.04 L572.55,1181.57 L575.69,1183.61 L578.51,1186.75" fill="none" stroke="#ff0000" stroke-width="3.3" stroke-linejoin="round" stroke-linecap="round"/>
<path d="M233.53,1156.16 L239.8,1156.47 L245.29,1155.69 L249.22,1156 L254.71,1154.59 L258.63,1154.9 L263.33,1155.69 L266.47,1154.59 L271.96,1156.16 L277.45,1157.73 L281.37,1160.08 L285.29,1161.18 L290,1163.22 L297.84,1162.75 L304.12,1162.27 L311.96,1160.39 L317.45,1159.92 L320.59,1161.96 L324.51,1163.84 L330.78,1163.53 L335.49,1160.86 L341.76,1157.73 L348.04,1156.16 L352.75,1154.9 L360.59,1155.69 L365.29,1157.73 L373.14,1158.35 L378.63,1156.78 L385.69,1158.51 L391.96,1157.73 L396.67,1158.51 L401.37,1157.73 L405.49,1158.82 L409.41,1158.04 L414.9,1159.29 L420.39,1157.57 L423.53,1158.35 L428.24,1155.69 L433.73,1157.73 L439.22,1156.78 L444.71,1156.16 L450.2,1154.9 L456.47,1154.9 L461.18,1152.86 L467.45,1152.24 L472.16,1151.76 L476.86,1154.12 L481.57,1154.9 L486.27,1156.78 L491.76,1154.9 L497.25,1156 L501.96,1154.43 L506.67,1154.12 L511.37,1152.55 L516.08,1151.45 L519.22,1149.41 L522.35,1143.92 L526.27,1136.86 L530.2,1131.37 L534.12,1128.55 L538.04,1128.71 L545.88,1130.27 L552.16,1129.8 L558.43,1129.33 L563.92,1128.71 L569.41,1129.8 L574.9,1129.33 L578.51,1130.59" fill="none" stroke="#f07f09" stroke-width="3.3" stroke-linejoin="round" stroke-linecap="round"/>
<path d="M233.53,1103.45 L239.8,1102.35 L246.08,1105.49 L250.78,1105.18 L257.06,1106.43 L264.12,1106.12 L269.61,1108.63 L272.75,1111.45 L275.88,1116.47 L279.02,1122.75 L282.16,1128.71 L285.29,1132.63 L289.22,1135.29 L294.71,1135.76 L300.98,1137.18 L308.82,1137.33 L315.1,1136.08 L324.51,1134.98 L330.78,1136.55 L338.63,1138.75 L346.47,1137.8 L351.96,1137.65 L357.45,1138.43 L363.73,1137.96 L370,1136.86 L379.41,1135.92 L385.69,1137.96 L396.67,1136.86 L402.94,1138.43 L406.27,1140.31 L412.55,1141.88 L418.82,1140.31 L425.1,1140 L430.59,1142.35 L435.29,1143.92 L440.78,1143.45 L445.49,1142.82 L450.2,1140.31 L456.47,1141.1 L462.75,1143.92 L467.45,1145.8 L472.16,1145.96 L475.29,1145.49 L480,1146.27 L486.27,1145.96 L492.55,1147.06 L496.47,1148.16 L501.96,1146.59 L505.1,1146.27 L509.8,1143.45 L513.73,1141.25 L516.86,1137.65 L520,1129.02 L523.92,1121.18 L527.84,1114.9 L531.76,1110.51 L537.25,1109.73 L542.75,1110.98 L547.45,1110.67 L551.37,1112.08 L555.29,1110.51 L560,1109.1 L563.92,1110.51 L567.84,1109.41 L571.76,1109.88 L575.37,1110.2 L578.51,1103.92" fill="none" stroke="#9400d3" stroke-width="3.3" stroke-linejoin="round" stroke-linecap="round"/>
<path d="M233.53,1131.37 L239.8,1129.49 L245.29,1128.71 L249.22,1129.49 L256.27,1126.67 L260.2,1127.14 L263.33,1125.88 L268.04,1128.55 L271.96,1132.16 L275.1,1133.73 L279.02,1138.9 L284.51,1143.92 L290,1146.59 L295.49,1145.49 L298.63,1145.96 L302.55,1144.24 L308.82,1144.71 L315.88,1145.96 L321.37,1143.92 L326.08,1142.67 L330.78,1141.1 L335.49,1143.14 L339.41,1145.02 L343.33,1144.71 L345.69,1145.18 L351.18,1141.25 L357.45,1139.69 L362.16,1138.9 L365.29,1140 L371.57,1138.43 L378.63,1139.69 L385.69,1139.69 L391.96,1138.43 L399.8,1138.12 L407.84,1136.86 L414.12,1137.65 L420.39,1135.29 L426.67,1134.2 L431.37,1136.08 L436.86,1136.86 L442.35,1135.76 L450.2,1136.39 L456.47,1136.55 L462.75,1134.51 L469.02,1132.47 L475.29,1131.37 L480,1131.37 L484.71,1132.63 L489.41,1131.69 L495.69,1130.9 L500.39,1130.27 L503.53,1129.49 L507.45,1130.12 L511.37,1128.55 L516.08,1124.31 L519.22,1116.47 L522.35,1105.49 L525.49,1094.51 L528.63,1085.1 L532.55,1080.08 L537.25,1078.51 L542.75,1080.39 L548.24,1080.71 L555.29,1079.14 L560,1080.86 L566.27,1082.27 L569.41,1083.22 L574.12,1080.39 L578.51,1079.92" fill="none" stroke="#00ff00" stroke-width="3.3" stroke-linejoin="round" stroke-linecap="round"/>
</g>
<rect x="216.05" y="1026" width="379.95" height="256.95" fill="none" stroke="#000" stroke-width="2.15" stroke-linejoin="round"/>
<g clip-path="url(#clipB)">
<text class="r" transform="translate(199.57,1030) scale(0.9650,1)" font-size="15.62">6</text>
<text class="r" transform="translate(199.53,1056) scale(0.9650,1)" font-size="15.62">5</text>
<text class="r" transform="translate(199.35,1082) scale(0.9650,1)" font-size="15.62">4</text>
<text class="r" transform="translate(199.57,1108) scale(0.9650,1)" font-size="15.62">3</text>
<text class="r" transform="translate(199.69,1133) scale(0.9650,1)" font-size="15.62">2</text>
<text class="r" transform="translate(199.65,1159) scale(0.9650,1)" font-size="15.62">1</text>
<text class="r" transform="translate(199.5,1185) scale(0.9650,1)" font-size="15.62">0</text>
<text class="r" transform="translate(191.28,1210) scale(0.9650,1)" font-size="15.62">–1</text>
<text class="r" transform="translate(191.32,1236) scale(0.9650,1)" font-size="15.62">–2</text>
<text class="r" transform="translate(191.2,1262) scale(0.9650,1)" font-size="15.62">–3</text>
<text class="r" transform="translate(190.98,1287) scale(0.9650,1)" font-size="15.62">–4</text>
</g>
<text class="r" transform="translate(202.13,1299.5) scale(0.9350,1)" font-size="15.62">–0.5</text>
<text class="r" transform="translate(241.07,1299.5) scale(0.9650,1)" font-size="15.62">0</text>
<text class="r" transform="translate(264.02,1299.5) scale(0.9650,1)" font-size="15.62">0.5</text>
<text class="r" transform="translate(299.34,1299.5) scale(0.9650,1)" font-size="15.62">1</text>
<text class="r" transform="translate(322.21,1299.5) scale(0.9650,1)" font-size="15.62">1.5</text>
<text class="r" transform="translate(358,1299.5) scale(0.9650,1)" font-size="15.62">2</text>
<text class="r" transform="translate(380.86,1299.5) scale(0.9650,1)" font-size="15.62">2.5</text>
<text class="r" transform="translate(416.49,1299.5) scale(0.9650,1)" font-size="15.62">3</text>
<text class="r" transform="translate(439.4,1299.5) scale(0.9650,1)" font-size="15.62">3.5</text>
<text class="r" transform="translate(474.95,1299.5) scale(0.9650,1)" font-size="15.62">4</text>
<text class="r" transform="translate(497.97,1299.5) scale(0.9650,1)" font-size="15.62">4.5</text>
<text class="r" transform="translate(533.36,1299.5) scale(0.9650,1)" font-size="15.62">5</text>
<text class="r" transform="translate(556.29,1299.5) scale(0.9650,1)" font-size="15.62">5.5</text>
<text class="r" transform="translate(591.76,1299.5) scale(0.9650,1)" font-size="15.62">6</text>
<text class="r" transform="translate(160.35,1217.65) rotate(-90) scale(0.9300,1)" font-size="15.62">Offset Voltage (mV)</text>
<text class="r" transform="translate(317.64,1317.5) scale(0.9207,1)" font-size="15.62">Common–Mode Voltage (V)</text>
<text class="r" transform="translate(594.4,1323) scale(1.1070,1)" font-size="7.3">G004</text>
<text class="b" transform="translate(194.28,1381) scale(0.9820,1)" font-size="17.2">Figure 5. Offset Voltage vs Common-Mode Voltage</text>
<text class="r" transform="translate(229.54,1046) scale(0.8079,1)" font-size="15.62">V</text>
<text class="b" transform="translate(238.59,1048) scale(0.9139,1)" font-size="11.2">CC</text>
<text class="r" transform="translate(257.52,1046) scale(0.9117,1)" font-size="15.62">= 5.5 V</text>
<text class="r" transform="translate(450.42,1048) scale(0.9253,1)" font-size="15.62">5 Typical Units Shown</text>
<rect x="741.05" y="1051" width="379.95" height="1" fill="#363636"/>
<rect x="741.05" y="1077" width="379.95" height="1" fill="#363636"/>
<rect x="741.05" y="1103" width="379.95" height="1" fill="#363636"/>
<rect x="741.05" y="1129" width="379.95" height="1" fill="#363636"/>
<rect x="741.05" y="1154" width="379.95" height="1" fill="#363636"/>
<rect x="741.05" y="1180" width="379.95" height="1" fill="#363636"/>
<rect x="741.05" y="1206" width="379.95" height="1" fill="#363636"/>
<rect x="741.05" y="1231" width="379.95" height="1" fill="#363636"/>
<rect x="741.05" y="1257" width="379.95" height="1" fill="#363636"/>
<rect x="804" y="1026" width="1" height="256.95" fill="#363636"/>
<rect x="868" y="1026" width="1" height="256.95" fill="#363636"/>
<rect x="931" y="1026" width="1" height="256.95" fill="#363636"/>
<rect x="994" y="1026" width="1" height="256.95" fill="#363636"/>
<rect x="1058" y="1026" width="1" height="256.95" fill="#363636"/>
<rect x="963" y="1027" width="157" height="33.2" fill="#fff"/>
<clipPath id="cp741_1026"><rect x="741.05" y="1026" width="379.95" height="256.95"/></clipPath><g clip-path="url(#cp741_1026)">
<path d="M741.05,1119.82 L753.71,1119.82 L766.38,1123.43 L779.04,1121.39 L791.71,1119.82 L804.38,1118.41 L817.04,1118.73 L829.7,1120.29 L842.37,1120.29 L855.03,1119.04 L867.7,1121.08 L880.37,1118.73 L893.03,1115.27 L905.69,1117.47 L918.36,1117.47 L931.02,1120.76 L943.69,1122.65 L956.35,1115.59 L969.02,1117.47 L981.68,1118.73 L994.35,1118.25 L1007.01,1123.75 L1019.68,1118.41 L1032.35,1116.84 L1045.01,1119.51 L1057.67,1115.27 L1070.34,1117.94 L1083,1119.2 L1095.67,1116.06 L1108.34,1117.63 L1121,1116.84" fill="none" stroke="#0000ff" stroke-width="3.3" stroke-linejoin="round" stroke-linecap="round"/>
<path d="M741.05,1161.55 L753.71,1161.39 L766.38,1162.18 L779.04,1159.04 L791.71,1156.37 L804.38,1161.55 L817.04,1157.63 L829.7,1161.08 L842.37,1162.65 L855.03,1161.55 L867.7,1158.73 L880.37,1159.51 L893.03,1161.08 L905.69,1164.22 L918.36,1161.39 L931.02,1165.31 L943.69,1162.65 L956.35,1162.65 L969.02,1163.75 L981.68,1159.51 L994.35,1159.2 L1007.01,1161.55 L1019.68,1165.31 L1032.35,1164.53 L1045.01,1165.78 L1057.67,1165.78 L1070.34,1161.08 L1083,1165.47 L1095.67,1165.78 L1108.34,1162.33 L1121,1162.33" fill="none" stroke="#f07f09" stroke-width="3.3" stroke-linejoin="round" stroke-linecap="round"/>
<path d="M741.05,1170.96 L753.71,1175.67 L766.38,1170.49 L779.04,1168.14 L791.71,1170.18 L804.38,1172.06 L817.04,1170.02 L829.7,1170.96 L842.37,1168.45 L855.03,1170.96 L867.7,1170.49 L880.37,1170.96 L893.03,1170.49 L905.69,1171.27 L918.36,1172.06 L931.02,1169.71 L943.69,1170.02 L956.35,1167.35 L969.02,1175.2 L981.68,1170.96 L994.35,1170.49 L1007.01,1170.8 L1019.68,1173.31 L1032.35,1171.27 L1045.01,1174.73 L1057.67,1172.06 L1070.34,1172.53 L1083,1168.14 L1095.67,1169.71 L1108.34,1170.49 L1121,1170.49" fill="none" stroke="#ff0000" stroke-width="3.3" stroke-linejoin="round" stroke-linecap="round"/>
<path d="M741.05,1156.37 L753.71,1151.67 L766.38,1154.02 L779.04,1152.45 L791.71,1158.73 L804.38,1149.78 L817.04,1149.78 L829.7,1150.57 L842.37,1152.92 L855.03,1153.24 L867.7,1154.02 L880.37,1152.14 L893.03,1154.02 L905.69,1156.06 L918.36,1155.12 L931.02,1154.8 L943.69,1152.76 L956.35,1157.16 L969.02,1154.8 L981.68,1155.59 L994.35,1155.59 L1007.01,1153.24 L1019.68,1158.25 L1032.35,1162.18 L1045.01,1156.84 L1057.67,1156.84 L1070.34,1160.29 L1083,1159.51 L1095.67,1154.8 L1108.34,1156.37 L1121,1158.25" fill="none" stroke="#00ff00" stroke-width="3.3" stroke-linejoin="round" stroke-linecap="round"/>
<path d="M741.05,1172.84 L753.71,1176.76 L766.38,1173.63 L779.04,1172.84 L791.71,1175.2 L804.38,1176.76 L817.04,1175.98 L829.7,1175.67 L842.37,1175.67 L855.03,1172.84 L867.7,1174.73 L880.37,1172.06 L893.03,1172.06 L905.69,1175.67 L918.36,1174.88 L931.02,1179.9 L943.69,1173.31 L956.35,1172.84 L969.02,1175.98 L981.68,1173.63 L994.35,1177.08 L1007.01,1174.41 L1019.68,1174.41 L1032.35,1177.24 L1045.01,1173.16 L1057.67,1176.45 L1070.34,1177.55 L1083,1179.12 L1095.67,1176.45 L1108.34,1175.67 L1121,1175.2" fill="none" stroke="#9400d3" stroke-width="3.3" stroke-linejoin="round" stroke-linecap="round"/>
<path d="M741.05,1119.51 L753.71,1119.51 L766.38,1122.65 L779.04,1121.08 L791.71,1121.39 L804.38,1124.69 L817.04,1125.31 L829.7,1124.22 L842.37,1124.69 L855.03,1125.31 L867.7,1127.04 L880.37,1125 L893.03,1128.14 L905.69,1123.12 L918.36,1129.39 L931.02,1128.29 L943.69,1129.71 L956.35,1124.53 L969.02,1127.35 L981.68,1127.35 L994.35,1130.96 L1007.01,1130.49 L1019.68,1130.96 L1032.35,1128.45 L1045.01,1127.04 L1057.67,1130.96 L1070.34,1133.63 L1083,1135.2 L1095.67,1132.84 L1108.34,1131.75 L1121,1132.06" fill="none" stroke="#ffff00" stroke-width="3.3" stroke-linejoin="round" stroke-linecap="round"/>
<path d="M741.05,1135.98 L753.71,1137.08 L766.38,1137.55 L779.04,1135.98 L791.71,1132.53 L804.38,1134.41 L817.04,1134.1 L829.7,1139.12 L842.37,1138.02 L855.03,1135.67 L867.7,1136.45 L880.37,1132.37 L893.03,1135.2 L905.69,1135.51 L918.36,1136.29 L931.02,1131.59 L943.69,1132.84 L956.35,1131.27 L969.02,1135.98 L981.68,1134.73 L994.35,1134.41 L1007.01,1138.65 L1019.68,1135.51 L1032.35,1134.88 L1045.01,1130.96 L1057.67,1134.88 L1070.34,1132.53 L1083,1133.63 L1095.67,1135.51 L1108.34,1132.84 L1121,1134.88" fill="none" stroke="#000000" stroke-width="3.3" stroke-linejoin="round" stroke-linecap="round"/>
<path d="M741.05,1108.84 L753.71,1108.53 L766.38,1113.24 L779.04,1108.53 L791.71,1110.88 L804.38,1108.84 L817.04,1108.22 L829.7,1111.2 L842.37,1111.2 L855.03,1109.63 L867.7,1111.2 L880.37,1109.63 L893.03,1109.78 L905.69,1110.88 L918.36,1113.24 L931.02,1109.47 L943.69,1115.27 L956.35,1113.55 L969.02,1112.45 L981.68,1111.35 L994.35,1110.41 L1007.01,1112.92 L1019.68,1116.06 L1032.35,1114.02 L1045.01,1114.8 L1057.67,1114.02 L1070.34,1114.02 L1083,1118.41 L1095.67,1113.55 L1108.34,1114.8 L1121,1114.33" fill="none" stroke="#76923c" stroke-width="3.3" stroke-linejoin="round" stroke-linecap="round"/>
</g>
<rect x="741.05" y="1026" width="379.95" height="256.95" fill="none" stroke="#000" stroke-width="2.15" stroke-linejoin="round"/>
<g clip-path="url(#clipB)">
<text class="r" transform="translate(724.53,1030) scale(0.9650,1)" font-size="15.62">5</text>
<text class="r" transform="translate(724.35,1056) scale(0.9650,1)" font-size="15.62">4</text>
<text class="r" transform="translate(724.57,1082) scale(0.9650,1)" font-size="15.62">3</text>
<text class="r" transform="translate(724.69,1108) scale(0.9650,1)" font-size="15.62">2</text>
<text class="r" transform="translate(724.65,1133) scale(0.9650,1)" font-size="15.62">1</text>
<text class="r" transform="translate(724.5,1159) scale(0.9650,1)" font-size="15.62">0</text>
<text class="r" transform="translate(716.28,1185) scale(0.9650,1)" font-size="15.62">–1</text>
<text class="r" transform="translate(716.32,1210) scale(0.9650,1)" font-size="15.62">–2</text>
<text class="r" transform="translate(716.2,1236) scale(0.9650,1)" font-size="15.62">–3</text>
<text class="r" transform="translate(715.98,1262) scale(0.9650,1)" font-size="15.62">–4</text>
<text class="r" transform="translate(716.17,1287) scale(0.9650,1)" font-size="15.62">–5</text>
</g>
<text class="r" transform="translate(730.5,1299.5) scale(0.9650,1)" font-size="15.62">2.5</text>
<text class="r" transform="translate(800.23,1299.5) scale(0.9650,1)" font-size="15.62">3</text>
<text class="r" transform="translate(857.24,1299.5) scale(0.9650,1)" font-size="15.62">3.5</text>
<text class="r" transform="translate(926.88,1299.5) scale(0.9650,1)" font-size="15.62">4</text>
<text class="r" transform="translate(984,1299.5) scale(0.9650,1)" font-size="15.62">4.5</text>
<text class="r" transform="translate(1053.49,1299.5) scale(0.9650,1)" font-size="15.62">5</text>
<text class="r" transform="translate(1110.52,1299.5) scale(0.9650,1)" font-size="15.62">5.5</text>
<text class="r" transform="translate(685.35,1217.65) rotate(-90) scale(0.9300,1)" font-size="15.62">Offset Voltage (mV)</text>
<text class="r" transform="translate(871.26,1317.5) scale(0.9300,1)" font-size="15.62">Supply Voltage (V)</text>
<text class="r" transform="translate(1119.4,1323) scale(1.1070,1)" font-size="7.3">G005</text>
<text class="b" transform="translate(756.88,1381) scale(0.9820,1)" font-size="17.2">Figure 6. Offset Voltage vs Power Supply</text>
<text class="r" transform="translate(975.39,1048) scale(0.9256,1)" font-size="15.62">8 Typical Units Shown</text>
<rect x="113" y="1533.7" width="1049.7" height="2.9" fill="#000"/>
<text class="r" transform="translate(111.86,1556) scale(1.0112,1)" font-size="14.58">Copyright © 2012–2016, Texas Instruments Incorporated</text>
<text class="i" transform="translate(853.24,1556) scale(1.0011,1)" font-size="16.67" fill="#0000c8">Submit Documentation Feedback</text>
<text class="r" transform="translate(1152.51,1556) scale(1.0681,1)" font-size="16.67">7</text>
<text class="r" transform="translate(482.51,1587) scale(1.0143,1)" font-size="16.67">Product Folder Links:</text>
<text class="i" transform="translate(646.57,1587) scale(1.0198,1)" font-size="16.67" fill="#0000c8">TLV3201</text>
<text class="i" transform="translate(724.47,1587) scale(1.0169,1)" font-size="16.67" fill="#0000c8">TLV3202</text>
</svg>
</body></html>
